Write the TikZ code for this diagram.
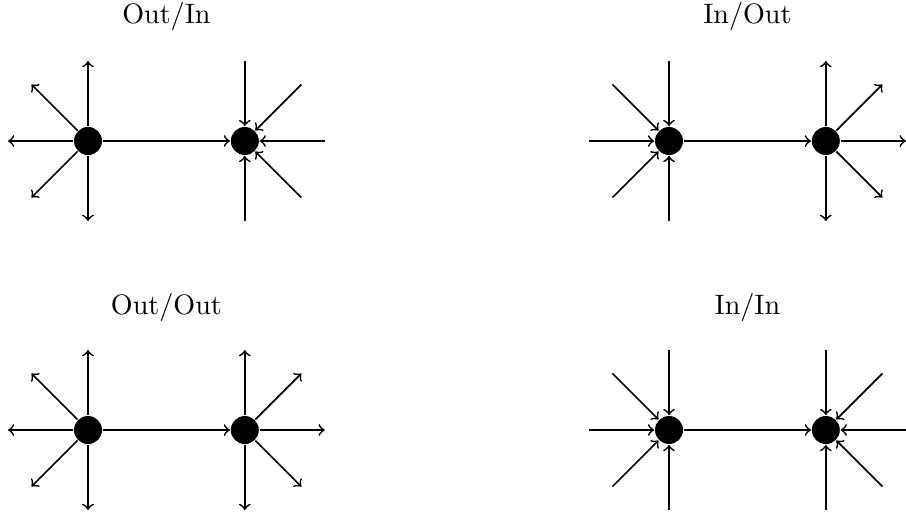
\documentclass[tikz,border=0pt]{standalone}
\begin{document}
\begin{tikzpicture}[>=to, semithick, vtx/.style={circle, fill, inner sep=0pt, minimum size=3.5mm}]
        \useasboundingbox (0,0) rectangle (11.325,-6.4375);
        % Top left (Out/In)
        \begin{scope}[shift={(1.1,-1.7625)}]
            \node[vtx] (a1) at (0,0) {};
            \node[vtx] (b1) at (1.96,0) {};
            \node (t1) at (0.98,1.56) {Out/In};
            \draw[->] (a1) -- (b1);
            \foreach \a in {90,135,180,225,270} \draw[->] (a1) -- ++(\a:1);
            \foreach \a in {-90,-45,0,45,90} \draw[<-] (b1) -- ++(\a:1);
        \end{scope}
        
        % Top right (In/Out)
        \begin{scope}[shift={(8.3625,-1.7625)}]
            \node[vtx] (a2) at (0,0) {};
            \node[vtx] (b2) at (1.96,0) {};
            \node (t2) at (0.98,1.56) {In/Out};
            \draw[->] (a2) -- (b2);
            \foreach \a in {90,135,180,225,270} \draw[<-] (a2) -- ++(\a:1);
            \foreach \a in {-90,-45,0,45,90} \draw[->] (b2) -- ++(\a:1);
        \end{scope}
        
        % Bottom left (Out/Out)
        \begin{scope}[shift={(1.1,-5.375)}]
            \node[vtx] (a3) at (0,0) {};
            \node[vtx] (b3) at (1.96,0) {};
            \node (t3) at (0.98,1.53) {Out/Out};
            \draw[->] (a3) -- (b3);
            \foreach \a in {90,135,180,225,270} \draw[->] (a3) -- ++(\a:1);
            \foreach \a in {-90,-45,0,45,90} \draw[->] (b3) -- ++(\a:1);
        \end{scope}
        
        % Bottom right (In/In)
        \begin{scope}[shift={(8.3625,-5.375)}]
            \node[vtx] (a4) at (0,0) {};
            \node[vtx] (b4) at (1.96,0) {};
            \node (t4) at (0.98,1.53) {In/In};
            \draw[->] (a4) -- (b4);
            \foreach \a in {90,135,180,225,270} \draw[<-] (a4) -- ++(\a:1);
            \foreach \a in {-90,-45,0,45,90} \draw[<-] (b4) -- ++(\a:1);
        \end{scope}
    \end{tikzpicture}
\end{document}
